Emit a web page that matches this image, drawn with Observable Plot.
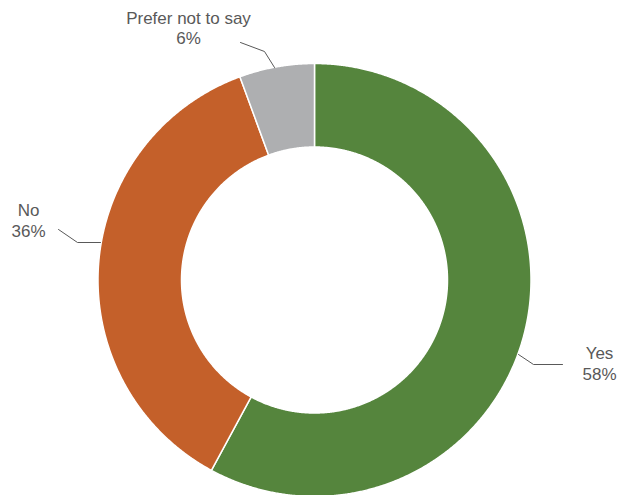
<!DOCTYPE html>
<html><head><meta charset="utf-8">
<script src="https://cdn.jsdelivr.net/npm/d3@7"></script>
<script src="https://cdn.jsdelivr.net/npm/@observablehq/plot@0.6"></script>
<style>html,body{margin:0;padding:0;background:#fff;overflow:hidden}</style>
</head><body><div id="chart"></div>
<script>
// Data
const categories = ["Yes", "No", "Prefer not to say"];
const values = [57.9, 36.5, 5.6];
const valueLabels = ["58%", "36%", "6%"];
const colors = ["#55853D", "#C4602A", "#AEAFB1"];

// Layout (pixels, relative to the chart centre; y up)
const R = 216.5, r0 = 133;
const labelLayout = {
  "Yes": {text: [285, -99.5], leader: [[204, -74.5], [219, -84.5], [248, -84.5]]},
  "No": {text: [-286, 43.5], leader: [[-256, 50.5], [-237, 37.5], [-214, 37.5]]},
  "Prefer not to say": {text: [-126, 236], leader: [[-74, 237.5], [-50, 228.5], [-40, 212.5]]}
};

const pie = d3.pie().sort(null).value(d => d.value);
const arcs = pie(categories.map((c, i) => ({cat: c, value: values[i]})));

const ring = [];
for (const a of arcs) {
  const n = Math.max(2, Math.ceil((a.endAngle - a.startAngle) / 0.005));
  for (let k = 0; k <= n; k++) {
    const t = a.startAngle + (a.endAngle - a.startAngle) * k / n;
    ring.push({cat: a.data.cat, x: R * Math.sin(t), y: R * Math.cos(t)});
  }
  for (let k = n; k >= 0; k--) {
    const t = a.startAngle + (a.endAngle - a.startAngle) * k / n;
    ring.push({cat: a.data.cat, x: r0 * Math.sin(t), y: r0 * Math.cos(t)});
  }
}

const leaders = [];
const texts = [];
categories.forEach((c, i) => {
  const L = labelLayout[c];
  L.leader.forEach(p => leaders.push({cat: c, x: p[0], y: p[1]}));
  texts.push({cat: c, x: L.text[0], y: L.text[1], label: c + "\n" + valueLabels[i]});
});

const chart = Plot.plot({
  width: 617,
  height: 495,
  margin: 0,
  x: {domain: [-216.5, 216.5], range: [97.5, 530.5], axis: null},
  y: {domain: [-216.5, 216.5], range: [496, 63], axis: null},
  color: {domain: categories, range: colors},
  style: {fontFamily: "'Liberation Sans', Arial, sans-serif", background: "#fff"},
  marks: [
    Plot.line(ring, {x: "x", y: "y", z: "cat", fill: "cat", stroke: "white", strokeWidth: 1.5, curve: "linear-closed"}),
    Plot.line(leaders, {x: "x", y: "y", z: "cat", stroke: "#595959", strokeWidth: 1}),
    Plot.text(texts, {x: "x", y: "y", text: "label", fill: "#595959", fontSize: 17, lineAnchor: "bottom", lineHeight: 1.2, textAnchor: "middle"})
  ]
});
document.getElementById("chart").appendChild(chart);
</script>
</body></html>
